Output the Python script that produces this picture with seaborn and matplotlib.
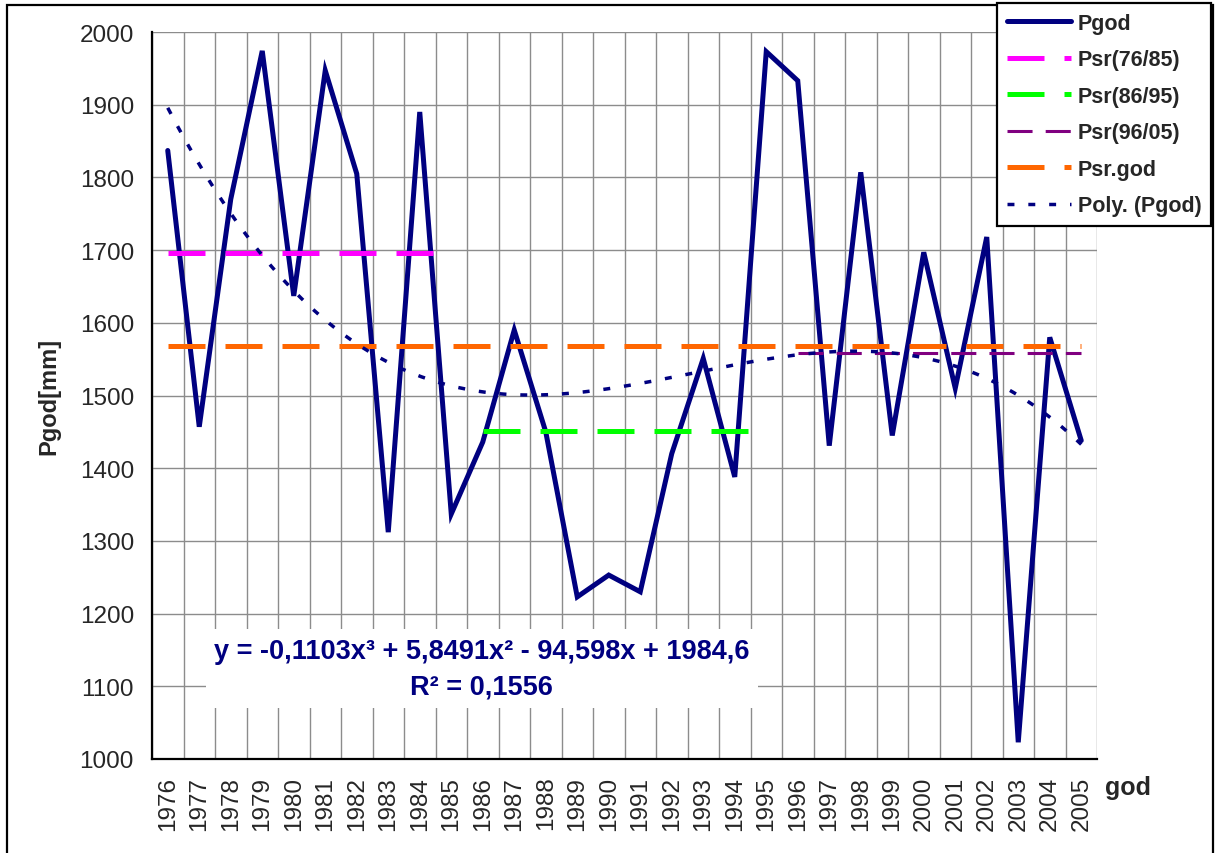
# Annual precipitation Pgod 1976-2005 with decade means and cubic trendline
import numpy as np
import pandas as pd
import matplotlib
matplotlib.use("Agg")
import matplotlib.pyplot as plt
from matplotlib.patches import Rectangle
import seaborn as sns

years = list(range(1976, 2006))
pgod = [1837, 1457, 1770, 1974, 1637, 1947, 1805, 1312, 1890, 1337,
        1436, 1590, 1450, 1223, 1253, 1230, 1420, 1551, 1388, 1973,
        1933, 1431, 1807, 1445, 1697, 1510, 1718, 1023, 1580, 1438]
# cubic trendline coefficients as printed on the chart (x = 1..30)
poly_coef = [-0.1103, 5.8491, -94.598, 1984.6]
r2_text = "0,1556"
periods = [("Psr(76/85)", 1976, 1985), ("Psr(86/95)", 1986, 1995), ("Psr(96/05)", 1996, 2005)]

df = pd.DataFrame({"god": years, "Pgod": pgod})

sns.set_style("white")
plt.rcParams["font.family"] = ["Liberation Sans", "DejaVu Sans"]

fig = plt.figure(figsize=(12.15, 8.54), dpi=100)
ax = fig.add_axes([152 / 1215, 1 - 760 / 854, (1097 - 152) / 1215, (760 - 33) / 854])

navy = "#000080"

# main series
sns.lineplot(data=df, x="god", y="Pgod", ax=ax, color=navy, linewidth=3.6,
             label="Pgod", legend=False, solid_joinstyle="miter")

# period means
mean_styles = {
    "Psr(76/85)": dict(color="#FF00FF", linewidth=3.6, linestyle=(0, (7.4, 4.0))),
    "Psr(86/95)": dict(color="#00FF00", linewidth=3.6, linestyle=(0, (7.4, 4.0))),
    "Psr(96/05)": dict(color="#800080", linewidth=2.2, linestyle=(0, (8.2, 4.3))),
}
for name, y0, y1 in periods:
    sub = df[(df["god"] >= y0) & (df["god"] <= y1)]
    m = sub["Pgod"].mean()
    sns.lineplot(x=[y0, y1], y=[m, m], ax=ax, label=name, legend=False,
                 dash_capstyle="butt", **mean_styles[name])

m_all = df["Pgod"].mean()
sns.lineplot(x=[years[0], years[-1]], y=[m_all, m_all], ax=ax, color="#FF6600",
             linewidth=3.6, linestyle=(0, (7.4, 4.0)), label="Psr.god", legend=False,
             dash_capstyle="butt")

# polynomial trendline (Excel style, smooth)
xs = np.linspace(1, len(years), 300)
trend = np.polyval(poly_coef, xs)
sns.lineplot(x=xs + years[0] - 1, y=trend, ax=ax, color=navy, linewidth=2.5,
             linestyle=(0, (2.0, 4.0)), label="Poly. (Pgod)", legend=False,
             dash_capstyle="butt")

# axes
ax.set_xlim(years[0] - 0.5, years[-1] + 0.5)
ax.set_ylim(1000, 2000)
ax.set_yticks(range(1000, 2001, 100))
ax.set_xticks([y - 0.5 for y in years] + [years[-1] + 0.5])
ax.set_xticklabels([])
ax.set_xticks(years, minor=True)
ax.set_xticklabels([str(y) for y in years], minor=True, rotation=90, fontsize=17.5)
ax.tick_params(axis="x", which="minor", length=0, pad=12)
ax.tick_params(axis="x", which="major", length=6, width=1.5, color="black", direction="out")
ax.tick_params(axis="y", length=7, width=1.5, color="black", direction="out", labelsize=17.5, pad=6)
ax.grid(True, which="major", color="#8c8c8c", linewidth=1.0)
ax.set_axisbelow(True)
for s in ["top", "right"]:
    ax.spines[s].set_visible(False)
for s in ["left", "bottom"]:
    ax.spines[s].set_color("black")
    ax.spines[s].set_linewidth(1.6)
ax.set_xlabel("")
ax.set_ylabel("Pgod[mm]", fontsize=17, fontweight="bold", labelpad=14)
fig.text(1105 / 1215, 1 - 788 / 854, "god", fontsize=18, fontweight="bold", va="center", ha="left")

# trendline equation
eq = "y = -0,1103x³ + 5,8491x² - 94,598x + 1984,6\nR² = " + r2_text
ax.text(0.349, 0.124, eq, transform=ax.transAxes, ha="center", va="center",
        fontsize=19.5, fontweight="bold", color=navy, linespacing=1.5, zorder=5,
        bbox=dict(facecolor="white", edgecolor="none", pad=6))

# legend box top right, overlapping the plot corner
handles, labels = ax.get_legend_handles_labels()
leg = fig.legend(handles, labels, loc="upper left", bbox_to_anchor=(997 / 1215, 1 - 4 / 854),
                 frameon=True, fancybox=False, framealpha=1, edgecolor="black",
                 prop={"size": 15.5, "weight": "bold"}, handlelength=3.0, handletextpad=0.3,
                 labelspacing=0.72, borderpad=0.45, borderaxespad=0)
leg.get_frame().set_linewidth(1.6)

# chart area border
fig.patches.append(Rectangle((7 / 1215, -0.02), 1206 / 1215, 1.02 - 6 / 854,
                             transform=fig.transFigure, fill=False, edgecolor="black",
                             linewidth=1.6))

fig.savefig("out.png", dpi=100)
